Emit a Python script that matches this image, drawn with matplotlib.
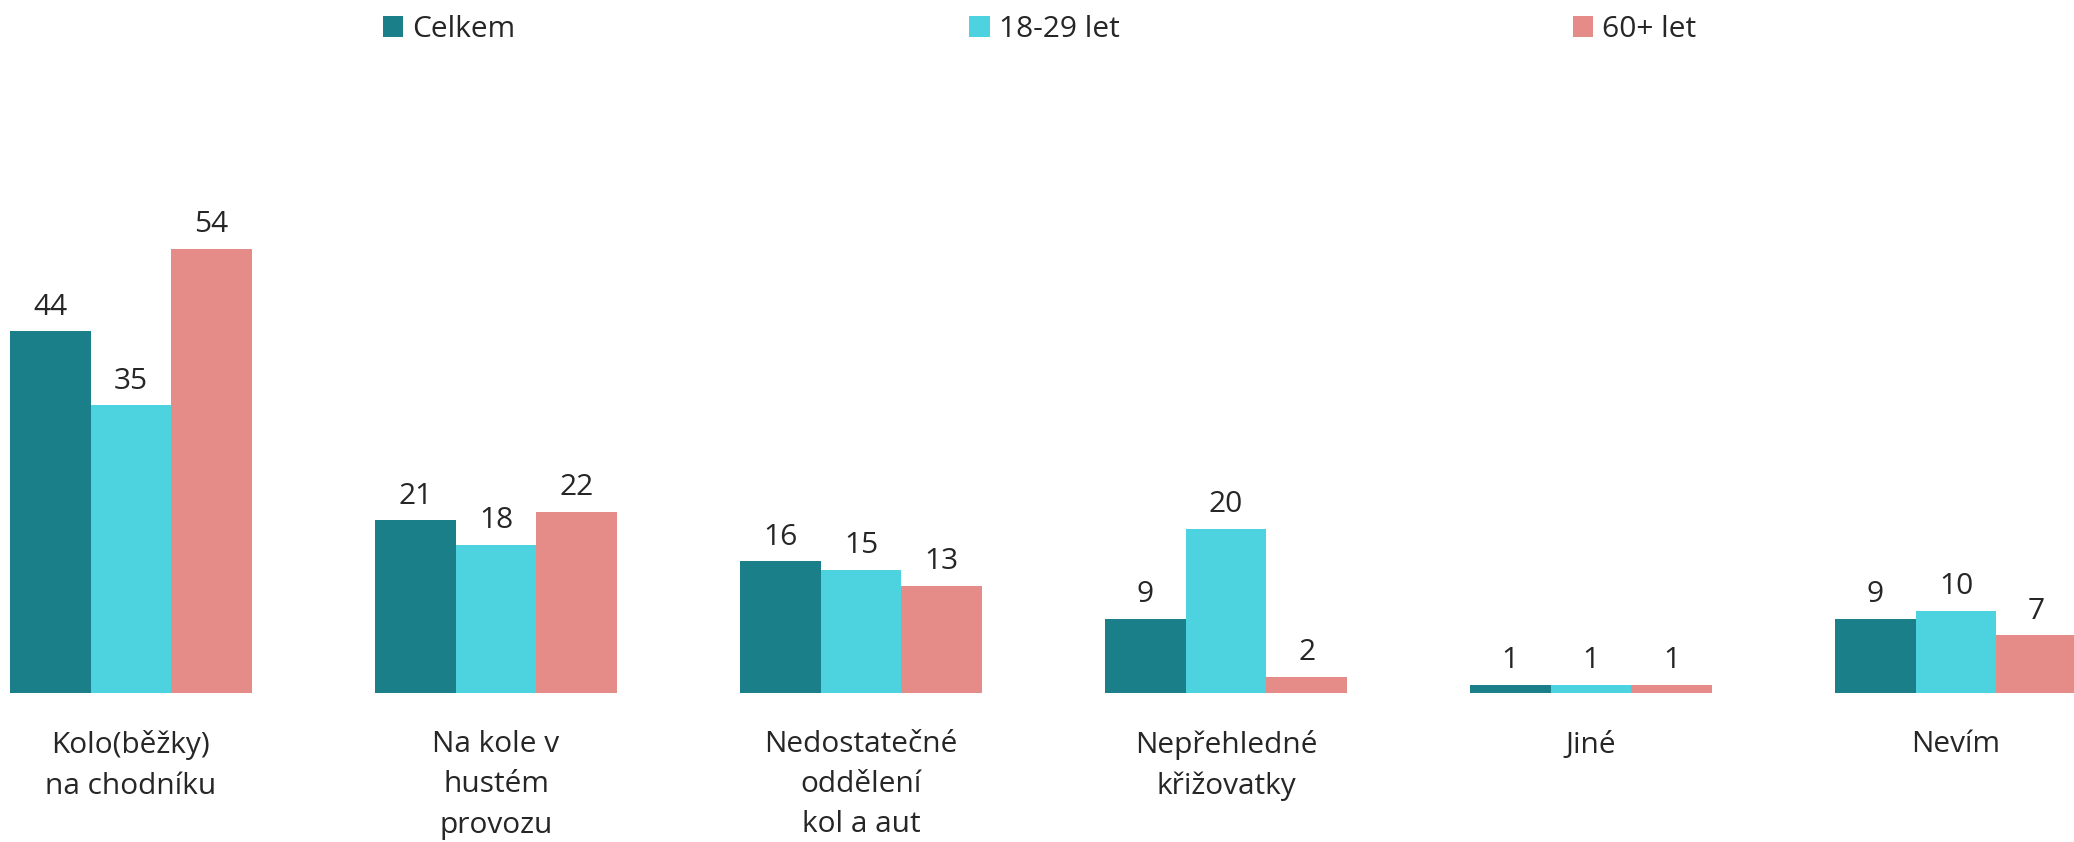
import numpy as np
import matplotlib
matplotlib.use("Agg")
import matplotlib.pyplot as plt

# data
categories = ["Kolo(běžky)\nna chodníku", "Na kole v\nhustém\nprovozu",
              "Nedostatečné\noddělení\nkol a aut", "Nepřehledné\nkřižovatky",
              "Jiné", "Nevím"]
celkem = [44, 21, 16, 9, 1, 9]
mladi = [35, 18, 15, 20, 1, 10]
starsi = [54, 22, 13, 2, 1, 7]
series_names = ["Celkem", "18-29 let", "60+ let"]

colors = ["#1a7f89", "#4dd2e0", "#e68c88"]
text_color = "#262626"
fs = 21.5

plt.rcParams['font.family'] = ['Open Sans', 'DejaVu Sans']

fig = plt.figure(figsize=(20.74, 8.42), dpi=100)
# baseline sits at 693 px from the top
ax = fig.add_axes([0, 149 / 842, 1, 693 / 842])

x = np.arange(len(categories))
w = 0.221
for k, vals in enumerate([celkem, mladi, starsi]):
    bars = ax.bar(x + (k - 1) * w, vals, width=w, color=colors[k],
                  label=series_names[k], linewidth=0)
    for b, v in zip(bars, vals):
        ax.annotate(str(v), (b.get_x() + b.get_width() / 2, v),
                    xytext=(0, 7), textcoords="offset points",
                    ha="center", va="bottom", fontsize=fs, color=text_color)

ax.set_xlim(-131 / 365, (2074 - 131) / 365)
ax.set_ylim(0, 693 / 8.22)
ax.set_xticks(x)
ax.set_xticklabels(categories, fontsize=fs, color=text_color, linespacing=1.5)
ax.tick_params(axis="x", length=0, pad=27)
ax.set_yticks([])
for s in ax.spines.values():
    s.set_visible(False)

fig.legend(loc="upper left", bbox_to_anchor=(383 / 2074, 1 - 15 / 842),
           ncol=3, frameon=False, fontsize=fs, handlelength=0.68,
           handleheight=0.68, handletextpad=0.3, columnspacing=15.2,
           borderpad=0, borderaxespad=0, labelcolor=text_color)

fig.savefig("out.png", dpi=100)
